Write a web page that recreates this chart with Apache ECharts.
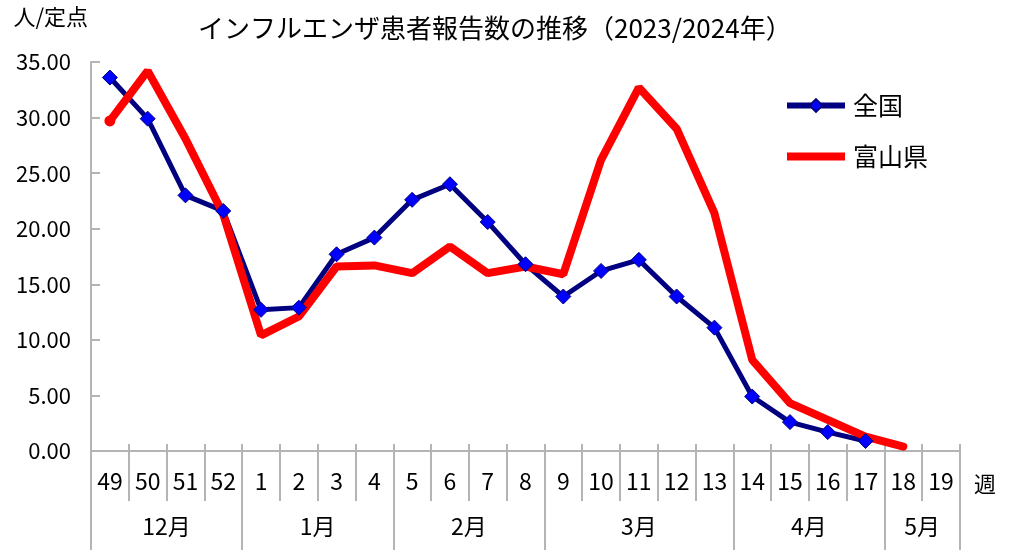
<!DOCTYPE html>
<html style="height: 100%">
<head>
    <meta charset="utf-8">
    <title>インフルエンザ患者報告数の推移</title>
</head>
<body style="height: 100%; margin: 0">
    <div id="chart" style="width: 1011px; height: 550px;"></div>

    <script src="https://cdn.jsdelivr.net/npm/echarts@6/dist/echarts.min.js"></script>
    <script type="text/javascript">
    // 週（2023年49週〜2024年19週）
    var weeks = ['49','50','51','52','1','2','3','4','5','6','7','8','9','10','11','12','13','14','15','16','17','18','19'];
    var months = ['12月','1月','2月','3月','4月','5月'];
    var monthWeekCounts = [4, 4, 4, 5, 4, 2];

    var zenkoku = [33.6, 29.9, 23.0, 21.6, 12.7, 12.9, 17.7, 19.2, 22.6, 24.0, 20.6, 16.8, 13.9, 16.2, 17.2, 13.9, 11.1, 4.9, 2.6, 1.7, 0.9, null, null];
    var toyama  = [29.7, 34.2, 28.1, 21.3, 10.4, 12.1, 16.6, 16.7, 16.0, 18.4, 16.0, 16.6, 15.9, 26.2, 32.7, 29.0, 21.4, 8.2, 4.3, 2.8, 1.3, 0.4, null];

    // 月の区切りと中央位置
    var bounds = [0];
    var centers = [];
    monthWeekCounts.forEach(function (n) {
        var start = bounds[bounds.length - 1];
        centers.push(start + n / 2);
        bounds.push(start + n);
    });
    // 週の区切り
    var weekBounds = [];
    for (var i = 0; i <= weeks.length; i++) weekBounds.push(i);

    var font = '"Noto Sans CJK JP", "Noto Sans", sans-serif';
    var gray = '#b4b4b4';
    var gridRect = { left: 91, right: 51, top: 62, bottom: 99 };

    var toyamaData = toyama.map(function (v, i) {
        // 最初の点だけ丸印
        return i === 0 ? { value: v, symbol: 'circle', symbolSize: 11 } : v;
    });

    // 週の区切り線だけを描く軸（ラベルは空文字）
    function tickAxis(gridIndex, values, len, inside) {
        return {
            type: 'value',
            gridIndex: gridIndex,
            min: 0,
            max: weeks.length,
            position: 'bottom',
            axisLine: { show: false },
            axisTick: { show: true, inside: inside, length: len, customValues: values, lineStyle: { color: gray, width: 2 } },
            axisLabel: { show: true, customValues: values, formatter: function () { return ''; } },
            splitLine: { show: false }
        };
    }
    function hiddenY(gridIndex) {
        return { type: 'value', gridIndex: gridIndex, min: 0, max: 35, show: false };
    }

    var option = {
        backgroundColor: '#ffffff',
        textStyle: { fontFamily: font },
        animation: false,
        title: {
            text: 'インフルエンザ患者報告数の推移（2023/2024年）',
            left: 193,
            top: 10,
            textStyle: { fontSize: 26, fontWeight: 'normal', color: '#000', fontFamily: font }
        },
        legend: {
            orient: 'vertical',
            left: 779,
            top: 88,
            itemWidth: 58,
            itemHeight: 16,
            itemGap: 26,
            textStyle: { fontSize: 25, color: '#000', padding: [0, 0, 0, 3] },
            data: [
                { name: '全国', lineStyle: { width: 6 } },
                { name: '富山県', icon: 'path://M0,0L58,0L58,8L0,8Z', itemStyle: { color: '#ff0000' } }
            ]
        },
        grid: [gridRect, gridRect, gridRect],
        xAxis: [
            {
                type: 'category',
                gridIndex: 0,
                data: weeks,
                boundaryGap: true,
                position: 'bottom',
                name: '週',
                nameLocation: 'end',
                nameGap: 14,
                nameTextStyle: { fontSize: 22, color: '#000', verticalAlign: 'top', lineHeight: 66 },
                axisLine: { show: true, lineStyle: { color: gray, width: 2 } },
                axisTick: { show: false },
                axisLabel: { fontSize: 23, color: '#000', margin: 19, interval: 0 },
                splitLine: { show: false }
            },
            {
                type: 'value',
                gridIndex: 0,
                min: 0,
                max: weeks.length,
                position: 'bottom',
                axisLine: { show: false },
                axisTick: { show: true, length: 100, customValues: bounds, lineStyle: { color: gray, width: 2 } },
                axisLabel: {
                    fontSize: 23,
                    color: '#000',
                    margin: 64,
                    customValues: centers,
                    formatter: function (v) {
                        var i = centers.indexOf(v);
                        return i >= 0 ? months[i] : '';
                    }
                },
                splitLine: { show: false }
            },
            tickAxis(1, weekBounds, 50, false),
            tickAxis(2, weekBounds, 7, true)
        ],
        yAxis: [
            {
                type: 'value',
                gridIndex: 0,
                min: 0,
                max: 35,
                interval: 5,
                name: '人/定点',
                nameLocation: 'end',
                nameGap: 34,
                nameTextStyle: { fontSize: 22, color: '#000', align: 'right', padding: [0, 3, 0, 0] },
                axisLine: { show: true, lineStyle: { color: gray, width: 2 } },
                axisTick: { show: true, inside: true, length: 9, lineStyle: { color: gray, width: 2 } },
                axisLabel: {
                    fontSize: 22,
                    color: '#000',
                    margin: 20,
                    formatter: function (v) { return v.toFixed(2); }
                },
                splitLine: { show: false }
            },
            hiddenY(1),
            hiddenY(2)
        ],
        series: [
            {
                name: '全国',
                type: 'line',
                xAxisIndex: 0,
                yAxisIndex: 0,
                data: zenkoku,
                symbol: 'diamond',
                symbolSize: 15,
                itemStyle: { color: '#0000ff', borderColor: '#000080', borderWidth: 1 },
                lineStyle: { color: '#000080', width: 5 }
            },
            {
                name: '富山県',
                type: 'line',
                xAxisIndex: 0,
                yAxisIndex: 0,
                data: toyamaData,
                symbol: 'none',
                itemStyle: { color: '#ff0000' },
                lineStyle: { color: '#ff0000', width: 8, cap: 'round' }
            }
        ]
    };

    var myChart = echarts.init(document.getElementById('chart'));
    myChart.setOption(option);
    </script>
</body>
</html>
